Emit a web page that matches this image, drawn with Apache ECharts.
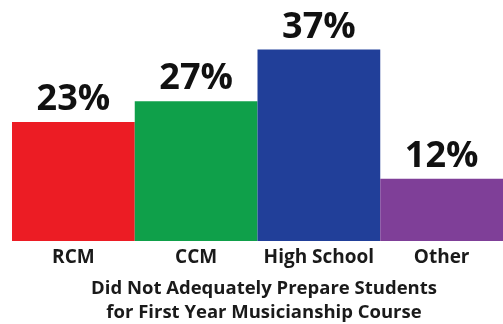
<!DOCTYPE html>
<html>
<head>
<meta charset="utf-8">
<script src="https://cdn.jsdelivr.net/npm/echarts@6/dist/echarts.min.js"></script>
<style>
  html, body { margin: 0; padding: 0; background: #fff; }
  #chart { width: 503px; height: 324px; }
</style>
</head>
<body>
<div id="chart"></div>
<script>
var categories = ['RCM', 'CCM', 'High School', 'Other'];
var values = [23, 27, 37, 12];
var colors = ['#ec1c24', '#0fa04a', '#213f99', '#7f3f98'];

var chart = echarts.init(document.getElementById('chart'));
var font = '"Open Sans", sans-serif';

chart.setOption({
    animation: false,
    title: {
        text: 'Did Not Adequately Prepare Students\nfor First Year Musicianship Course',
        left: 259,
        top: 272,
        textAlign: 'center',
        textStyle: {
            fontFamily: font,
            fontWeight: 'bold',
            fontSize: 18.5,
            lineHeight: 24,
            color: '#1a1a1a'
        }
    },
    grid: {
        left: 12,
        top: 8,
        width: 498,
        bottom: 83
    },
    xAxis: {
        type: 'category',
        data: categories,
        axisLine: { show: false },
        axisTick: { show: false },
        axisLabel: {
            interval: 0,
            margin: 7,
            fontFamily: font,
            fontWeight: 'bold',
            fontSize: 19,
            color: '#1a1a1a'
        }
    },
    yAxis: {
        type: 'value',
        min: 0,
        max: 45,
        show: false,
        splitLine: { show: false }
    },
    series: [{
        type: 'bar',
        barCategoryGap: 0,
        data: values.map(function (v, i) {
            return { value: v, itemStyle: { color: colors[i] } };
        }),
        label: {
            show: true,
            position: 'top',
            distance: 4,
            formatter: '{c}%',
            fontFamily: font,
            fontWeight: 'bold',
            fontSize: 36,
            color: '#111'
        }
    }]
});
</script>
</body>
</html>
